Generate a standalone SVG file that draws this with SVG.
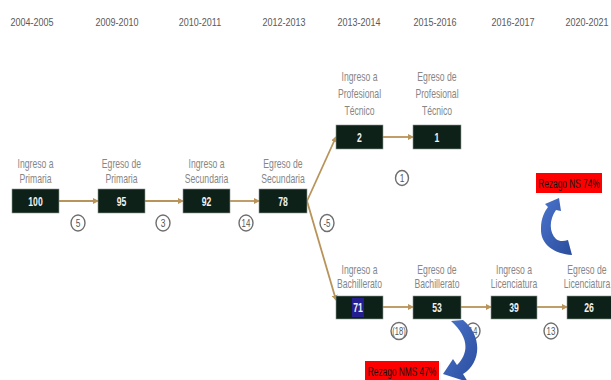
<svg xmlns="http://www.w3.org/2000/svg" width="611" height="380" viewBox="0 0 611 380">
<defs>
<style>
.yr{font-family:"Liberation Sans",Arial,sans-serif;font-size:11px;fill:#5a5a5a;text-anchor:middle}
.lb{font-family:"Liberation Sans",Arial,sans-serif;font-size:12px;fill:#868686;text-anchor:middle}
.bx{fill:#0e2118;stroke:#8c9690;stroke-width:0.6}
.nv{font-family:"Liberation Sans",Arial,sans-serif;font-size:12px;font-weight:bold;fill:#f2f2f2;text-anchor:middle}
.cn{stroke:#b8935a;stroke-width:1.8;fill:none;marker-end:url(#ah)}
.ci{fill:#fff;stroke:#6e6e6e;stroke-width:1.4}
.ct{font-family:"Liberation Sans",Arial,sans-serif;font-size:10.5px;fill:#555;text-anchor:middle}
.rz{fill:#ff0000}
.rt{font-family:"Liberation Sans",Arial,sans-serif;font-size:13px;fill:#111;text-anchor:middle}
</style>
<marker id="ah" markerWidth="6" markerHeight="6" refX="5" refY="3" orient="auto" markerUnits="userSpaceOnUse">
<path d="M0,0 L6,3 L0,6 Z" fill="#b8935a"/>
</marker>
<linearGradient id="bg" x1="0" y1="0" x2="1" y2="1">
<stop offset="0" stop-color="#4a74cc"/>
<stop offset="1" stop-color="#2a4c9c"/>
</linearGradient>
</defs>
<rect width="611" height="380" fill="#fff"/>
<g id="years">
<text class="yr" transform="translate(32,26) scale(0.82,1)">2004-2005</text>
<text class="yr" transform="translate(117,26) scale(0.82,1)">2009-2010</text>
<text class="yr" transform="translate(200,26) scale(0.82,1)">2010-2011</text>
<text class="yr" transform="translate(284,26) scale(0.82,1)">2012-2013</text>
<text class="yr" transform="translate(359,26) scale(0.82,1)">2013-2014</text>
<text class="yr" transform="translate(435,26) scale(0.82,1)">2015-2016</text>
<text class="yr" transform="translate(513,26) scale(0.82,1)">2016-2017</text>
<text class="yr" transform="translate(587,26) scale(0.82,1)">2020-2021</text>
</g>
<g id="connectors">
<line class="cn" x1="59" y1="201" x2="98" y2="201"/>
<line class="cn" x1="145" y1="201" x2="183" y2="201"/>
<line class="cn" x1="230" y1="201" x2="259" y2="201"/>
<line class="cn" x1="307" y1="201" x2="336" y2="137"/>
<line class="cn" x1="307" y1="201" x2="336" y2="300"/>
<line class="cn" x1="383" y1="137" x2="413" y2="137"/>
<line class="cn" x1="383" y1="307" x2="413" y2="307"/>
<line class="cn" x1="461" y1="307" x2="491" y2="307"/>
<line class="cn" x1="537" y1="307" x2="567" y2="307"/>
</g>
<g id="n-ingreso-primaria">
<text class="lb" transform="translate(35.5,168) scale(0.72,1)">Ingreso a</text>
<text class="lb" transform="translate(35.5,183) scale(0.72,1)">Primaria</text>
<rect class="bx" x="12" y="189" width="47" height="24"/>
<text class="nv" transform="translate(35.5,205.5) scale(0.72,1)">100</text>
</g>
<g id="n-egreso-primaria">
<text class="lb" transform="translate(121.5,168) scale(0.72,1)">Egreso de</text>
<text class="lb" transform="translate(121.5,183) scale(0.72,1)">Primaria</text>
<rect class="bx" x="98" y="189" width="47" height="24"/>
<text class="nv" transform="translate(121.5,205.5) scale(0.72,1)">95</text>
</g>
<g id="n-ingreso-secundaria">
<text class="lb" transform="translate(206.5,168) scale(0.72,1)">Ingreso a</text>
<text class="lb" transform="translate(206.5,183) scale(0.72,1)">Secundaria</text>
<rect class="bx" x="183" y="189" width="47" height="24"/>
<text class="nv" transform="translate(206.5,205.5) scale(0.72,1)">92</text>
</g>
<g id="n-egreso-secundaria">
<text class="lb" transform="translate(283,168) scale(0.72,1)">Egreso de</text>
<text class="lb" transform="translate(283,183) scale(0.72,1)">Secundaria</text>
<rect class="bx" x="259" y="189" width="48" height="24"/>
<text class="nv" transform="translate(283,205.5) scale(0.72,1)">78</text>
</g>
<g id="n-ingreso-pt">
<text class="lb" transform="translate(359.5,81) scale(0.72,1)">Ingreso a</text>
<text class="lb" transform="translate(359.5,98) scale(0.72,1)">Profesional</text>
<text class="lb" transform="translate(359.5,115) scale(0.72,1)">Técnico</text>
<rect class="bx" x="336" y="125" width="47" height="24"/>
<text class="nv" transform="translate(359.5,141.5) scale(0.72,1)">2</text>
</g>
<g id="n-egreso-pt">
<text class="lb" transform="translate(437,81) scale(0.72,1)">Egreso de</text>
<text class="lb" transform="translate(437,98) scale(0.72,1)">Profesional</text>
<text class="lb" transform="translate(437,115) scale(0.72,1)">Técnico</text>
<rect class="bx" x="413" y="125" width="48" height="24"/>
<text class="nv" transform="translate(437,141.5) scale(0.72,1)">1</text>
</g>
<g id="n-ingreso-bach">
<text class="lb" transform="translate(359.5,274) scale(0.72,1)">Ingreso a</text>
<text class="lb" transform="translate(359.5,288) scale(0.72,1)">Bachillerato</text>
<rect class="bx" x="336" y="296" width="47" height="23"/>
<rect x="352" y="298" width="12" height="19" fill="#251e90"/>
<text class="nv" transform="translate(358,312) scale(0.72,1)">71</text>
</g>
<g id="n-egreso-bach">
<text class="lb" transform="translate(437,274) scale(0.72,1)">Egreso de</text>
<text class="lb" transform="translate(437,288) scale(0.72,1)">Bachillerato</text>
<rect class="bx" x="413" y="296" width="48" height="23"/>
<text class="nv" transform="translate(437,312) scale(0.72,1)">53</text>
</g>
<g id="n-ingreso-lic">
<text class="lb" transform="translate(514,274) scale(0.72,1)">Ingreso a</text>
<text class="lb" transform="translate(514,288) scale(0.72,1)">Licenciatura</text>
<rect class="bx" x="491" y="296" width="46" height="23"/>
<text class="nv" transform="translate(514,312) scale(0.72,1)">39</text>
</g>
<g id="n-egreso-lic">
<text class="lb" transform="translate(587,274) scale(0.72,1)">Egreso de</text>
<text class="lb" transform="translate(587,288) scale(0.72,1)">Licenciatura</text>
<rect class="bx" x="567" y="296" width="50" height="23"/>
<text class="nv" transform="translate(589,312) scale(0.72,1)">26</text>
</g>
<g id="losses">
<ellipse class="ci" cx="78" cy="223" rx="7" ry="8"/><text class="ct" transform="translate(78,227) scale(0.8,1)">5</text>
<ellipse class="ci" cx="163" cy="223" rx="7" ry="8"/><text class="ct" transform="translate(163,227) scale(0.8,1)">3</text>
<ellipse class="ci" cx="246" cy="223" rx="7" ry="8"/><text class="ct" transform="translate(246,227) scale(0.75,1)">14</text>
<ellipse class="ci" cx="327" cy="223" rx="7" ry="8.5"/><text class="ct" transform="translate(327,227) scale(0.75,1)">-5</text>
<ellipse class="ci" cx="402" cy="178" rx="6.5" ry="7.5"/><text class="ct" transform="translate(402,182) scale(0.8,1)">1</text>
<ellipse class="ci" cx="399" cy="331" rx="8" ry="8.5" stroke="#aaa"/><text class="ct" transform="translate(399,335) scale(0.72,1)">(18)</text>
<ellipse class="ci" cx="473" cy="331" rx="7" ry="8"/><text class="ct" transform="translate(473,335) scale(0.75,1)">14</text>
<ellipse class="ci" cx="551" cy="331" rx="7" ry="8"/><text class="ct" transform="translate(551,335) scale(0.75,1)">13</text>
</g>
<g id="rezago-nms">
<path d="M451,321 L463,320 C482,335 482,362 463,374 L468,382 L443,374 L453,359 L457,365 C470,352 468,336 451,321 Z" fill="url(#bg)"/>
<rect class="rz" x="365" y="361" width="74" height="20"/>
<text class="rt" transform="translate(402,376) scale(0.64,1)">Rezago NMS 47%</text>
</g>
<g id="rezago-ns">
<path d="M568,240 L572,255 C555,254 540,245 541,228 C541,218 545,211 548,207 L545,204 L559,198 L561,211 L556,210 C549,220 549,232 556,239 C560,242 564,241 568,240 Z" fill="url(#bg)"/>
<rect class="rz" x="536" y="173" width="66" height="20"/>
<text class="rt" transform="translate(569,188) scale(0.64,1)">Rezago NS 74%</text>
</g>
</svg>
